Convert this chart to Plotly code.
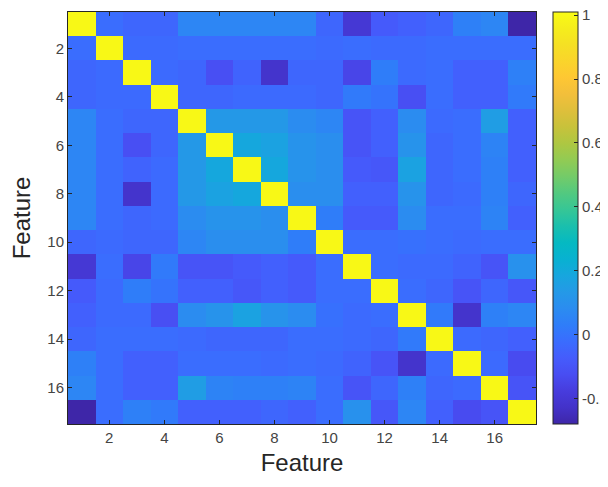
import plotly.graph_objects as go

features = list(range(1, 18))
tick_vals = [2, 4, 6, 8, 10, 12, 14, 16]
cbar_vals = [-0.2, 0, 0.2, 0.4, 0.6, 0.8, 1]
cbar_text = ["-0.2", "0", "0.2", "0.4", "0.6", "0.8", "1"]

# lower triangle of the correlation matrix (row i, columns 1..i-1)
r02 = [-0.02]
r03 = [-0.04, -0.03]
r04 = [-0.04, -0.03, -0.03]
r05 = [0.06, -0.02, -0.04, -0.04]
r06 = [0.06, -0.02, -0.12, -0.04, 0.13]
r07 = [0.06, -0.02, -0.05, -0.03, 0.13, 0.19]
r08 = [0.06, -0.02, -0.22, -0.03, 0.13, 0.17, 0.19]
r09 = [0.06, -0.02, -0.04, -0.03, 0.08, 0.11, 0.11, 0.09]
r10 = [-0.04, -0.03, -0.04, -0.04, 0.06, 0.09, 0.09, 0.09, 0.03]
r11 = [-0.20, -0.02, -0.15, 0.02, -0.10, -0.10, -0.08, -0.06, -0.08, -0.02]
r12 = [-0.08, -0.03, 0.03, 0.00, -0.06, -0.06, -0.09, -0.06, -0.08, -0.02, -0.02]
r13 = [-0.06, -0.03, -0.03, -0.12, 0.08, 0.11, 0.17, 0.11, 0.08, -0.01, -0.03, -0.02]
r14 = [-0.04, -0.02, -0.02, -0.02, -0.03, -0.04, -0.04, -0.04, -0.02, -0.02, -0.03, -0.04, 0.02]
r15 = [0.04, -0.02, -0.06, -0.06, -0.02, -0.02, -0.02, -0.03, -0.02, -0.03, -0.05, -0.10, -0.22, -0.03]
r16 = [0.06, -0.02, -0.06, -0.06, 0.15, 0.05, 0.04, 0.04, 0.05, -0.02, -0.10, -0.04, 0.04, -0.04, -0.03]
r17 = [-0.28, -0.02, 0.04, 0.02, -0.06, -0.06, -0.06, -0.04, -0.06, -0.02, 0.10, -0.09, 0.06, -0.06, -0.13, -0.10]

lower = [[], r02, r03, r04, r05, r06, r07, r08, r09, r10, r11, r12, r13, r14, r15, r16, r17]
n = len(features)
z = [[0.0] * n for _ in range(n)]
for i in range(n):
    z[i][i] = 1.0
    for j, v in enumerate(lower[i]):
        z[i][j] = v
        z[j][i] = v

parula_pts = [
    (0.2422, 0.1504, 0.6603), (0.2628, 0.1950, 0.7884), (0.2765, 0.2350, 0.8650),
    (0.2810, 0.3020, 0.9500), (0.2700, 0.3600, 0.9900), (0.2280, 0.4250, 0.9980),
    (0.1840, 0.4900, 0.9750), (0.1700, 0.5500, 0.9400), (0.1400, 0.6000, 0.9050),
    (0.0900, 0.6500, 0.8700), (0.0300, 0.6950, 0.8200), (0.0200, 0.7250, 0.7600),
    (0.1000, 0.7500, 0.6800), (0.2100, 0.7750, 0.5900), (0.3200, 0.7900, 0.5000),
    (0.4500, 0.7950, 0.4100), (0.5700, 0.7950, 0.3300), (0.6800, 0.7800, 0.2600),
    (0.7800, 0.7600, 0.2300), (0.8700, 0.7500, 0.2300), (0.9500, 0.7500, 0.2300),
    (0.9950, 0.7800, 0.2000), (0.9800, 0.8300, 0.1700), (0.9600, 0.8800, 0.1400),
    (0.9600, 0.9300, 0.1100), (0.9769, 0.9839, 0.0805),
]
m = len(parula_pts)
colorscale = [
    [k / (m - 1), "rgb(%d,%d,%d)" % tuple(round(c * 255) for c in p)]
    for k, p in enumerate(parula_pts)
]

font_family = "Liberation Sans, Arial, sans-serif"
line_col = "#262626"
tick_col = "#444444"

fig = go.Figure(
    go.Heatmap(
        z=z,
        x=features,
        y=features,
        zmin=-0.28,
        zmax=1.01,
        colorscale=colorscale,
        colorbar=dict(
            x=1.036, xanchor="left", xpad=0,
            y=0.5, yanchor="middle", ypad=0,
            len=1, lenmode="fraction",
            thickness=25, thicknessmode="pixels",
            outlinewidth=1, outlinecolor=line_col,
            ticks="inside", ticklen=4, tickcolor=line_col,
            tickvals=cbar_vals, ticktext=cbar_text,
            ticklabeloverflow="allow",
            tickfont=dict(family=font_family, size=15, color=tick_col),
        ),
        hoverinfo="skip",
    )
)

axis_common = dict(
    showline=True, linecolor=line_col, linewidth=1, mirror="ticks",
    ticks="inside", ticklen=4, tickcolor=line_col,
    tickfont=dict(family=font_family, size=15, color=tick_col),
    showgrid=False, zeroline=False, automargin=False,
)

fig.update_xaxes(
    range=[0.5, 17.5], tickvals=tick_vals,
    title=dict(text="Feature", font=dict(family=font_family, size=24, color="#262626"), standoff=9),
    **axis_common,
)
fig.update_yaxes(
    range=[17.5, 0.5], tickvals=tick_vals,
    title=dict(text="Feature", font=dict(family=font_family, size=24, color="#262626"), standoff=12),
    **axis_common,
)

# the page body adds an 8px offset, so the figure is sized to fill the rest of the window
fig.update_layout(
    width=600, height=479,
    margin=dict(l=60, r=72, t=4, b=63, autoexpand=False),
    paper_bgcolor="white", plot_bgcolor="white",
)

fig.write_html("out.html")
